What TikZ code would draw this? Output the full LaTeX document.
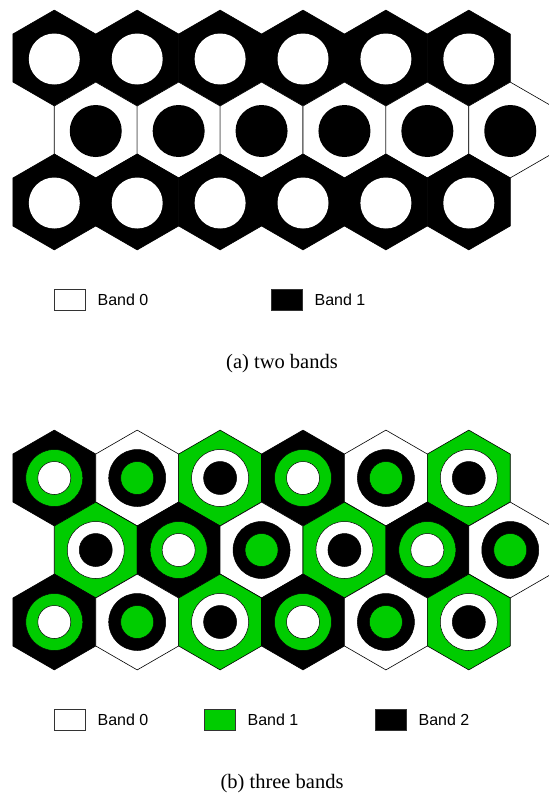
\documentclass[tikz,border=0pt]{standalone}
\usepackage{fontspec}
\setmainfont{Liberation Serif}
\setsansfont{Liberation Sans}
\usetikzlibrary{positioning}
\definecolor{bandgreen}{RGB}{0,204,0}
\colorlet{band0}{white}
\colorlet{band1}{bandgreen}
\colorlet{band2}{black}

\begin{document}
\begin{tikzpicture}[x=1pt,y=-1pt,
  hexcell/.pic={\path[pic actions] (90:47.9) -- (150:47.9) -- (210:47.9) -- (270:47.9) -- (330:47.9) -- (30:47.9) -- cycle;},
  hexline/.style={draw=black,line width=0.6pt},
  legbox/.style={draw=black!80,line width=0.8pt,minimum width=31pt,minimum height=21pt,inner sep=0pt},
  leglabel/.style={font=\sffamily\fontsize{16}{19}\selectfont,inner sep=0pt,right=12pt of #1},
  caption/.style={font=\fontsize{20.5}{24}\selectfont,inner sep=0pt}]
\clip (0,0) rectangle (549,793);

% (a) two bands
\foreach \r in {0,1,2}{
  \foreach \k in {0,...,5}{
    \pgfmathsetmacro{\cx}{54.3+41.45*mod(\r,2)+82.9*\k}
    \pgfmathsetmacro{\cy}{58+72*\r}
    \ifodd\r
      \pic[hexline,fill=white] at (\cx,\cy) {hexcell};
      \fill[black] (\cx,\cy+1) circle (26);
    \else
      \pic[hexline,fill=black] at (\cx,\cy) {hexcell};
      \fill[white] (\cx,\cy+1) circle (25.5);
    \fi
  }
}
\node[legbox,fill=band0] (boxa0) at (69.5,299.5) {};
\node[leglabel=boxa0] (laba0) {Band 0};
\node[legbox,fill=band2] (boxa1) at (286.5,299.5) {};
\node[leglabel=boxa1] (laba1) {Band 1};
\node[caption] (capa) at (282,364) {(a) two bands};

% (b) three bands
\foreach \r in {0,1,2}{
  \foreach \k in {0,...,5}{
    \pgfmathsetmacro{\cx}{54.3+41.45*mod(\r,2)+82.9*\k}
    \pgfmathsetmacro{\cy}{478+72*\r}
    \pgfmathtruncatemacro{\b}{mod(\k+2-mod(\r,2),3)}
    \pgfmathtruncatemacro{\ring}{mod(\b+2,3)}
    \pgfmathtruncatemacro{\core}{mod(\b+1,3)}
    \pic[hexline,fill=band\b] at (\cx,\cy) {hexcell};
    \filldraw[fill=band\ring,draw=black,line width=0.5pt] (\cx,\cy) circle (28.5);
    \filldraw[fill=band\core,draw=black,line width=0.5pt] (\cx,\cy) circle (16.5);
  }
}
\node[legbox,fill=band0] (boxb0) at (69.5,719.5) {};
\node[leglabel=boxb0] (labb0) {Band 0};
\node[legbox,fill=band1] (boxb1) at (219.5,719.5) {};
\node[leglabel=boxb1] (labb1) {Band 1};
\node[legbox,fill=band2] (boxb2) at (390.5,719.5) {};
\node[leglabel=boxb2] (labb2) {Band 2};
\node[caption] (capb) at (282,784) {(b) three bands};
\end{tikzpicture}
\end{document}
